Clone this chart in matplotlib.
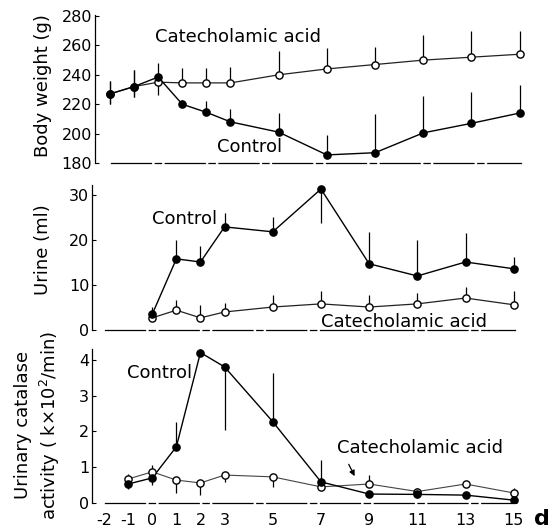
import matplotlib
matplotlib.use('Agg')
import matplotlib.pyplot as plt
import numpy as np

# ---------------- data ----------------
days_bw = [-2, -1, 0, 1, 2, 3, 5, 7, 9, 11, 13, 15]
bw_control = [227, 232, 238.5, 220, 214.5, 208, 201, 185.5, 187, 200.5, 207, 214]
bw_control_up = [9, 11, 9.5, 3, 8, 9, 13, 13.5, 26, 25, 21, 19]
bw_control_dn = [7, 7, 0, 0, 0, 0, 0, 0, 0, 0, 0, 0]
bw_cat = [227, 232, 235, 234.5, 234.5, 234.5, 240, 244, 247, 250, 252, 254]
bw_cat_up = [9, 11, 0, 10, 10, 11, 16, 14, 12, 17, 18, 16]
bw_cat_dn = [7, 7, 9, 0, 0, 0, 0, 0, 0, 0, 0, 0]

days_ur = [0, 1, 2, 3, 5, 7, 9, 11, 13, 15]
ur_control = [3.5, 15.8, 15.1, 22.9, 21.8, 31.3, 14.7, 12.0, 15.1, 13.6]
ur_control_up = [1.5, 4.2, 3.5, 3.0, 3.3, 0, 7.0, 8.0, 6.4, 2.7]
ur_control_dn = [0, 0, 0, 0, 0, 7.5, 0, 0, 0, 0]
ur_cat = [2.7, 4.4, 2.7, 4.0, 5.1, 5.8, 5.1, 5.8, 7.1, 5.6]
ur_cat_up = [0, 2.2, 2.9, 2.0, 2.7, 2.9, 2.7, 2.4, 2.4, 3.0]
ur_cat_dn = [0.8, 0, 0, 0, 0, 0, 0, 0, 0, 0]

days_ca = [-1, 0, 1, 2, 3, 5, 7, 9, 11, 13, 15]
ca_control = [0.53, 0.70, 1.57, 4.2, 3.8, 2.27, 0.59, 0.25, 0.24, 0.22, 0.08]
ca_control_up = [0.15, 0.15, 0.7, 0.1, 0, 1.37, 0.6, 0, 0, 0, 0]
ca_control_dn = [0.15, 0.2, 0, 0, 1.76, 0, 0, 0, 0.1, 0, 0]
ca_cat = [0.67, 0.87, 0.64, 0.56, 0.78, 0.73, 0.45, 0.53, 0.32, 0.53, 0.28]
ca_cat_up = [0.15, 0.2, 0, 0, 0, 0, 0, 0.25, 0.1, 0, 0.15]
ca_cat_dn = [0, 0, 0.35, 0.33, 0.2, 0.28, 0, 0, 0.1, 0, 0]

xtick_days = [-2, -1, 0, 1, 2, 3, 5, 7, 9, 11, 13, 15]
xtick_labels = ['-2', '-1', '0', '1', '2', '3', '5', '7', '9', '11', '13', '15']

bw_ticks = [180, 200, 220, 240, 260, 280]
ur_ticks = [0, 10, 20, 30]
ca_ticks = [0, 1, 2, 3, 4]

# ---------------- figure ----------------
W, H = 556, 530
fig = plt.figure(figsize=(W / 100, H / 100), dpi=100)


def px_axes(left, right, bottom_px, top_px):
    return fig.add_axes([left / W, 1 - bottom_px / H, (right - left) / W, (bottom_px - top_px) / H])


ax1 = px_axes(95, 524.5, 163, 15)
ax2 = px_axes(92, 521, 330, 185)
ax3 = px_axes(92, 521, 503, 349)

ax1.set_xlim(-2.62, 15.2)
ax1.set_ylim(180, 280.7)
ax2.set_xlim(-2.5, 15.3)
ax2.set_ylim(0, 32.2)
ax3.set_xlim(-2.5, 15.3)
ax3.set_ylim(0, 4.3)


def style(ax, yticks):
    for s in ['top', 'right']:
        ax.spines[s].set_visible(False)
    ax.spines['left'].set_linewidth(0.9)
    ax.spines['bottom'].set_linewidth(0.9)
    ax.spines['bottom'].set_bounds(-1.95, 15.05)
    ax.spines['bottom'].set_linestyle((0, (32, 3, 5, 3)))
    ax.set_yticks(yticks)
    ax.tick_params(axis='y', direction='in', length=3, width=0.8, labelsize=11.5, pad=2)
    ax.tick_params(axis='x', length=0)
    ax.set_xticks(xtick_days)
    ax.set_xticklabels([])
    ax.patch.set_alpha(0)


for ax, yt in [(ax1, bw_ticks), (ax2, ur_ticks), (ax3, ca_ticks)]:
    style(ax, yt)

ax3.set_xticklabels(xtick_labels, fontsize=11.5)
ax3.tick_params(axis='x', pad=7)


def series(ax, x, y, up, dn, filled, lcolor='k', lw=1.0):
    x = np.asarray(x, float)
    y = np.asarray(y, float)
    up = np.asarray(up, float)
    dn = np.asarray(dn, float)
    ax.plot(x, y, color=lcolor, lw=lw, zorder=2)
    ax.vlines(x, y - dn, y + up, color='k', lw=0.9, zorder=2)
    if filled:
        ax.plot(x, y, 'o', ms=5.2, mfc='k', mec='k', zorder=4)
    else:
        ax.plot(x, y, 'o', ms=5.2, mfc='white', mec='k', mew=1.0, zorder=3)


series(ax1, days_bw, bw_cat, bw_cat_up, bw_cat_dn, False, '#222', 0.9)
series(ax1, days_bw, bw_control, bw_control_up, bw_control_dn, True)
series(ax2, days_ur, ur_cat, ur_cat_up, ur_cat_dn, False, '#222', 0.9)
series(ax2, days_ur, ur_control, ur_control_up, ur_control_dn, True)
series(ax3, days_ca, ca_cat, ca_cat_up, ca_cat_dn, False, '#444', 0.8)
series(ax3, days_ca, ca_control, ca_control_up, ca_control_dn, True)

fs = 13
ax1.text(-0.13, 265.7, 'Catecholamic acid', fontsize=fs, ha='left', va='center')
ax1.text(2.44, 190.9, 'Control', fontsize=fs, ha='left', va='center')
ax2.text(0.0, 24.7, 'Control', fontsize=fs, ha='left', va='center')
ax2.text(7.0, 1.8, 'Catecholamic acid', fontsize=fs, ha='left', va='center')
ax3.text(-1.04, 3.64, 'Control', fontsize=fs, ha='left', va='center')
ax3.text(7.68, 1.54, 'Catecholamic acid', fontsize=fs, ha='left', va='center')
ax3.annotate('', xy=(8.45, 0.68), xytext=(8.1, 1.15),
             arrowprops=dict(arrowstyle='-|>', lw=0.9, color='k', mutation_scale=8))

fig.text(43 / W, 1 - 86 / H, 'Body weight (g)', rotation=90, ha='center', va='center', fontsize=fs)
fig.text(43 / W, 1 - 250 / H, 'Urine (ml)', rotation=90, ha='center', va='center', fontsize=fs)
fig.text(38 / W, 1 - 425 / H, 'Urinary catalase\nactivity ( k\u00d710$^2$/min)', rotation=90,
         ha='center', va='center', fontsize=fs, linespacing=1.35, multialignment='center')
fig.text(542 / W, 1 - 519 / H, 'd', ha='center', va='center', fontsize=16, fontweight='bold')

fig.savefig('out.png', dpi=100)
